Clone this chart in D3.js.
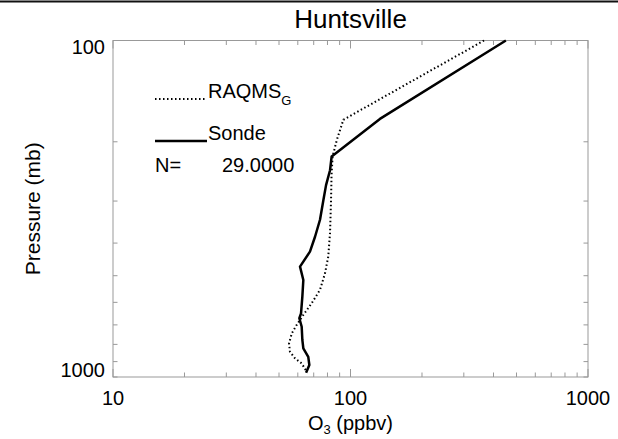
<!DOCTYPE html>
<html>
<head>
<meta charset="utf-8">
<script src="https://cdn.jsdelivr.net/npm/d3@7"></script>
<style>
	body { margin: 0; background: #fff; }
	svg { display: block; }
	text { font-family: "Liberation Sans", Arial, Helvetica, sans-serif; fill: #000; }
	.tick-line { stroke: #999; stroke-width: 1; }
	.frame { fill: none; stroke: #999; stroke-width: 1; }
</style>
</head>
<body>
<div class="chart"></div>
<script>
// ozone profile (pressure in mb, O3 in ppbv)
var sonde_pres = [100, 171, 221, 243, 269, 298, 341, 383, 424, 470, 515, 577, 647, 669, 709, 776, 822, 871, 921, 971];
var sonde_o3 = [451, 133, 83.3, 82.0, 78.9, 76.9, 74.4, 70.9, 67.5, 61.3, 63.3, 62.7, 61.9, 60.9, 62.3, 62.7, 63.3, 66.4, 67.1, 65.0];

var raqms_pres = [100, 172, 198, 221, 251, 298, 373, 439, 492, 551, 604, 654, 701, 742, 794, 841, 880, 911, 958];
var raqms_o3 = [365, 93.3, 87.5, 84.1, 83.2, 82.8, 82.0, 80.6, 78.1, 74.4, 68.6, 63.3, 59.3, 56.6, 55.1, 55.6, 58.4, 62.3, 65.0];

var x_labels = [10, 100, 1000];
var y_labels = [100, 1000];
var n_obs = 29;

var station = "Huntsville";

// SETUP
var W = 618, H = 439;
var margin = {left: 113, right: 30, top: 40.5, bottom: 62};
var width = W - margin.left - margin.right;
var height = H - margin.top - margin.bottom;

var svg = d3.select(".chart").append("svg")
		.attr("width", W)
		.attr("height", H);

// black rule along the top of the page
svg.append("line")
		.attr("x1", 0).attr("x2", W)
		.attr("y1", 1.5).attr("y2", 1.5)
		.style("stroke", "#111")
		.style("stroke-width", 2.2);

var g = svg.append("g")
		.attr("transform", "translate(" + margin.left + ", " + margin.top + ")");

var x = d3.scaleLog()
	.domain([10, 1000])
	.range([0, width]);

var y = d3.scaleLog()
	.domain([100, 1000])
	.range([0, height]);

// ticks on all four sides, inward
var x_ticks = x.ticks();
var y_ticks = y.ticks();

function tickLen(d){
	return x_labels.indexOf(d) > -1 ? 8 : 4.5;
}

g.selectAll(".xtick-b")
	.data(x_ticks)
	.enter().append("line")
		.attr("class", "tick-line")
		.attr("x1", function(d){ return x(d); })
		.attr("x2", function(d){ return x(d); })
		.attr("y1", height)
		.attr("y2", function(d){ return height - tickLen(d); });

g.selectAll(".xtick-t")
	.data(x_ticks)
	.enter().append("line")
		.attr("class", "tick-line")
		.attr("x1", function(d){ return x(d); })
		.attr("x2", function(d){ return x(d); })
		.attr("y1", 0)
		.attr("y2", function(d){ return tickLen(d); });

g.selectAll(".ytick-l")
	.data(y_ticks)
	.enter().append("line")
		.attr("class", "tick-line")
		.attr("y1", function(d){ return y(d); })
		.attr("y2", function(d){ return y(d); })
		.attr("x1", 0)
		.attr("x2", 4.5);

g.selectAll(".ytick-r")
	.data(y_ticks)
	.enter().append("line")
		.attr("class", "tick-line")
		.attr("y1", function(d){ return y(d); })
		.attr("y2", function(d){ return y(d); })
		.attr("x1", width)
		.attr("x2", width - 4.5);

g.append("rect")
		.attr("class", "frame")
		.attr("x", 0)
		.attr("y", 0)
		.attr("width", width)
		.attr("height", height);

// tick labels
g.selectAll(".xlab")
	.data(x_labels)
	.enter().append("text")
		.attr("x", function(d){ return x(d); })
		.attr("y", height + 28)
		.attr("text-anchor", "middle")
		.style("font-size", "20px")
		.text(function(d){ return d; });

g.selectAll(".ylab")
	.data(y_labels)
	.enter().append("text")
		.attr("x", -8)
		.attr("y", function(d, i){ return y(d) + (i == 0 ? 13 : 0); })
		.attr("text-anchor", "end")
		.style("font-size", "20px")
		.text(function(d){ return d; });

// titles
svg.append("text")
		.attr("x", margin.left + width / 2)
		.attr("y", 28)
		.attr("text-anchor", "middle")
		.style("font-size", "26px")
		.text(station);

var xt = svg.append("text")
		.attr("x", margin.left + width / 2)
		.attr("y", 430)
		.attr("text-anchor", "middle")
		.style("font-size", "20px");
xt.append("tspan").text("O");
xt.append("tspan").attr("dy", 4).style("font-size", "13px").text("3");
xt.append("tspan").attr("dy", -4).text(" (ppbv)");

svg.append("text")
		.attr("transform", "translate(40, " + (margin.top + height / 2) + ") rotate(-90)")
		.attr("text-anchor", "middle")
		.style("font-size", "21px")
		.text("Pressure (mb)");

// profiles
var line_raqms = d3.line()
	.x(function(d, i){ return x(raqms_o3[i]); })
	.y(function(d){ return y(d); });

var line_sonde = d3.line()
	.x(function(d, i){ return x(sonde_o3[i]); })
	.y(function(d){ return y(d); });

g.append("path")
		.datum(raqms_pres)
		.attr("d", line_raqms)
		.style("fill", "none")
		.style("stroke", "#000")
		.style("stroke-width", 2)
		.style("stroke-dasharray", "1.5, 2.5");

g.append("path")
		.datum(sonde_pres)
		.attr("d", line_sonde)
		.style("fill", "none")
		.style("stroke", "#000")
		.style("stroke-width", 2.5)
		.style("stroke-linejoin", "round");

// legend
var leg = svg.append("g");

leg.append("line")
		.attr("x1", 155).attr("x2", 207)
		.attr("y1", 99).attr("y2", 99)
		.style("stroke", "#000")
		.style("stroke-width", 2)
		.style("stroke-dasharray", "1.5, 2.5");

var t1 = leg.append("text")
		.attr("x", 208)
		.attr("y", 98)
		.style("font-size", "20px");
t1.append("tspan").text("RAQMS");
t1.append("tspan").attr("dy", 7).style("font-size", "13px").text("G");

leg.append("line")
		.attr("x1", 155).attr("x2", 207)
		.attr("y1", 141).attr("y2", 141)
		.style("stroke", "#000")
		.style("stroke-width", 2.5);

leg.append("text")
		.attr("x", 208)
		.attr("y", 140)
		.style("font-size", "20px")
		.text("Sonde");

leg.append("text")
		.attr("x", 155)
		.attr("y", 172)
		.style("font-size", "20px")
		.text("N=");

leg.append("text")
		.attr("x", 222)
		.attr("y", 172)
		.style("font-size", "20px")
		.text(d3.format(".4f")(n_obs));
</script>
</body>
</html>
